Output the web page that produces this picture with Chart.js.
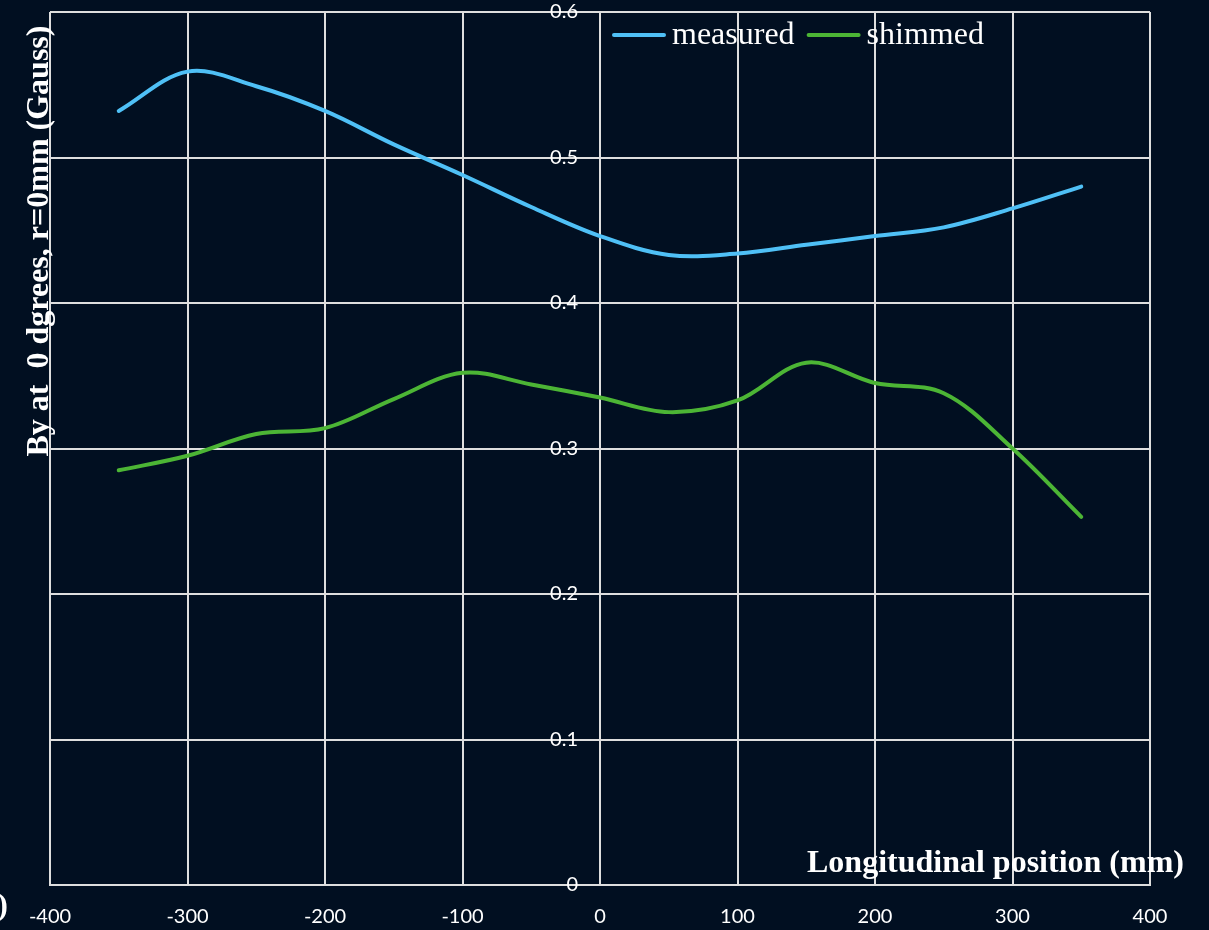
<!DOCTYPE html>
<html>
<head>
<meta charset="utf-8">
<script src="https://cdn.jsdelivr.net/npm/chart.js@4.4.1/dist/chart.umd.min.js"></script>
<style>
  html, body { margin: 0; padding: 0; background: #010f21; }
  canvas { display: block; }
</style>
</head>
<body>
<canvas id="chart" width="1209" height="930"></canvas>
<script>
// Longitudinal positions (mm) where the field was sampled
const positions = [-350, -300, -250, -200, -150, -100, -50, 0, 50, 100, 150, 200, 250, 300, 350];

// By on axis (Gauss), before and after shimming
const measured = [0.532, 0.559, 0.549, 0.532, 0.509, 0.488, 0.466, 0.446, 0.433, 0.434, 0.440, 0.446, 0.452, 0.465, 0.480];
const shimmed  = [0.285, 0.295, 0.310, 0.314, 0.334, 0.352, 0.344, 0.335, 0.325, 0.333, 0.359, 0.345, 0.338, 0.300, 0.253];

const seriesNames  = ['measured', 'shimmed'];
const seriesColors = ['#4fc0f6', '#4cb535'];

// Axis ranges and tick spacing
const xRange = [-400, 400];
const xStep = 100;
const yRange = [0, 0.6];
const yStep = 0.1;
// the value labels sit just left of the x = 0 line
const yLabelAnchor = -16;

const xTitle = 'Longitudinal position (mm)';
const yTitle = 'By at  0 dgrees, r=0mm (Gauss)';
const cornerMark = ')';

const BG = '#010f21';
const GRID = '#dedede';
const TEXT = '#ffffff';
const TICK_FONT = { family: 'Lato', size: 20 };

const toPoints = (vals) => positions.map((x, i) => ({ x, y: vals[i] }));

// Background, axis titles and the legend row
const decorations = {
  id: 'decorations',
  beforeDraw(chart) {
    const { ctx, width, height } = chart;
    ctx.save();
    ctx.fillStyle = BG;
    ctx.fillRect(0, 0, width, height);
    ctx.restore();
  },
  afterDraw(chart) {
    const { ctx, chartArea } = chart;
    ctx.save();
    ctx.fillStyle = TEXT;

    // x title, inside the plot at the bottom right
    ctx.font = 'bold 32px "Liberation Serif"';
    ctx.textAlign = 'left';
    ctx.textBaseline = 'alphabetic';
    ctx.fillText(xTitle, 807, chartArea.bottom - 13);

    // y title, rotated along the left edge
    ctx.save();
    ctx.translate(48, 241);
    ctx.rotate(-Math.PI / 2);
    ctx.textAlign = 'center';
    ctx.fillText(yTitle, 0, 0);
    ctx.restore();

    // clipped closing bracket in the lower left corner
    ctx.textAlign = 'right';
    ctx.fillText(cornerMark, 8, 915);

    // legend: line sample + series name for each dataset
    ctx.font = '32px "Liberation Serif"';
    ctx.textAlign = 'left';
    let x = 612;
    const y = 35;
    chart.data.datasets.forEach((ds) => {
      ctx.strokeStyle = ds.borderColor;
      ctx.lineWidth = 4;
      ctx.lineCap = 'round';
      ctx.beginPath();
      ctx.moveTo(x + 2, y);
      ctx.lineTo(x + 52, y);
      ctx.stroke();
      ctx.fillStyle = TEXT;
      ctx.fillText(ds.label, x + 60, y + 9);
      x += 60 + ctx.measureText(ds.label).width + 12;
    });
    ctx.restore();
  }
};

new Chart(document.getElementById('chart'), {
  type: 'line',
  data: {
    datasets: [
      { label: seriesNames[0], data: toPoints(measured), borderColor: seriesColors[0], backgroundColor: seriesColors[0] },
      { label: seriesNames[1], data: toPoints(shimmed),  borderColor: seriesColors[1], backgroundColor: seriesColors[1] }
    ]
  },
  options: {
    responsive: false,
    animation: false,
    devicePixelRatio: 1,
    layout: { padding: { left: 50, right: 59, top: 12, bottom: 2 } },
    elements: {
      point: { radius: 0, hoverRadius: 0 },
      line: { borderWidth: 4, tension: 0.35, borderCapStyle: 'round', fill: false }
    },
    plugins: {
      legend: { display: false },
      tooltip: { enabled: false }
    },
    scales: {
      x: {
        type: 'linear',
        position: 'bottom',
        min: xRange[0],
        max: xRange[1],
        ticks: { stepSize: xStep, color: TEXT, font: TICK_FONT, padding: 20, maxRotation: 0 },
        grid: { color: GRID, lineWidth: 2, drawTicks: false },
        border: { color: GRID, width: 2 },
        afterFit(scale) { scale.height = 43; }
      },
      y: {
        type: 'linear',
        position: { x: yLabelAnchor },
        min: yRange[0],
        max: yRange[1],
        ticks: { stepSize: yStep, color: TEXT, font: TICK_FONT, padding: 0 },
        grid: { color: GRID, lineWidth: 2, drawTicks: false },
        border: { display: false }
      }
    }
  },
  plugins: [decorations]
});
</script>
</body>
</html>
